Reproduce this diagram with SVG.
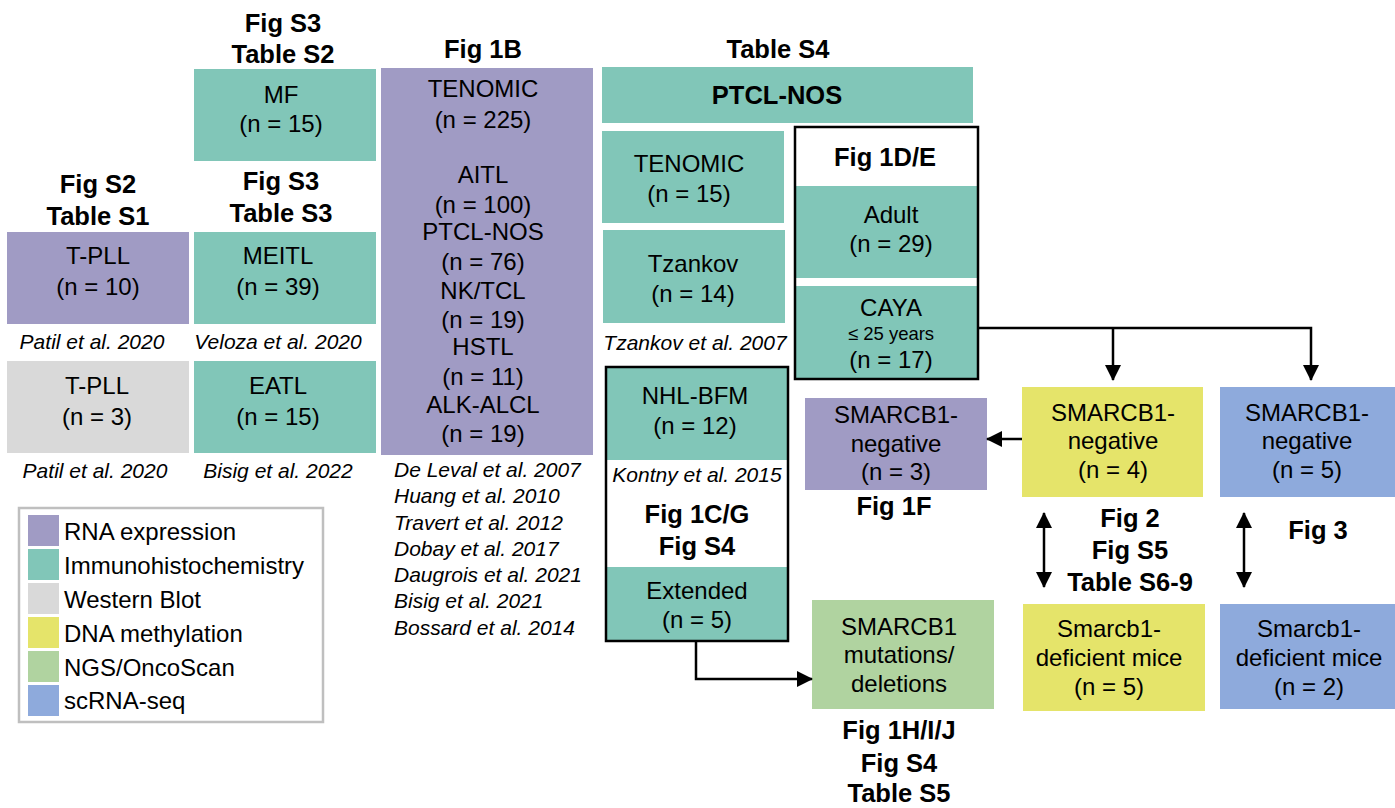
<svg xmlns="http://www.w3.org/2000/svg" width="1395" height="808" viewBox="0 0 1395 808">
<defs>
<style>
text{font-family:"Liberation Sans",Arial,sans-serif;fill:#000;text-anchor:middle}
.r{font-size:24px}
.b{font-size:25.5px;font-weight:bold}
.i{font-size:21px;font-style:italic}
.s{font-size:18.5px}
.l{text-anchor:start}
.pu{fill:#a09bc4}
.te{fill:#81c6b8}
.gr{fill:#d9d9d9}
.ye{fill:#e5e46a}
.gn{fill:#b0d3a0}
.bl{fill:#8eaadc}
.frame{fill:none;stroke:#000;stroke-width:2.5}
.conn{fill:none;stroke:#000;stroke-width:2.5}
</style>
<marker id="ah" markerUnits="userSpaceOnUse" markerWidth="16" markerHeight="16" refX="15" refY="8" orient="auto-start-reverse" viewBox="0 0 16 16">
<path d="M0,0 L16,8 L0,16 z" fill="#000"/>
</marker>
</defs>
<rect width="1395" height="808" fill="#fff"/>

<g id="col-left">
<text class="b" x="98" y="193">Fig S2</text>
<text class="b" x="98" y="225">Table S1</text>
</g>
<g id="tpll-rna">
<rect class="pu" x="7" y="232" width="182" height="92"/>
<text class="r" x="98" y="264">T-PLL</text>
<text class="r" x="98" y="295">(n = 10)</text>
</g>
<text class="i" x="92" y="349">Patil et al. 2020</text>
<g id="tpll-wb">
<rect class="gr" x="7" y="361" width="182" height="92"/>
<text class="r" x="97" y="394">T-PLL</text>
<text class="r" x="97" y="425">(n = 3)</text>
</g>
<text class="i" x="95" y="478">Patil et al. 2020</text>

<g id="mf-title">
<text class="b" x="283" y="32">Fig S3</text>
<text class="b" x="283" y="63">Table S2</text>
</g>
<g id="mf">
<rect class="te" x="194" y="69" width="182" height="92"/>
<text class="r" x="281" y="103">MF</text>
<text class="r" x="281" y="132">(n = 15)</text>
</g>
<g id="meitl-title">
<text class="b" x="281" y="190">Fig S3</text>
<text class="b" x="281" y="222">Table S3</text>
</g>
<g id="meitl">
<rect class="te" x="194" y="232" width="182" height="92"/>
<text class="r" x="278" y="264">MEITL</text>
<text class="r" x="278" y="295">(n = 39)</text>
</g>
<text class="i" x="278" y="349">Veloza et al. 2020</text>
<g id="eatl">
<rect class="te" x="194" y="361" width="182" height="92"/>
<text class="r" x="278" y="394">EATL</text>
<text class="r" x="278" y="425">(n = 15)</text>
</g>
<text class="i" x="278" y="478">Bisig et al. 2022</text>

<g id="legend">
<rect x="19" y="508" width="304" height="214" fill="#fff" stroke="#bfbfbf" stroke-width="2.5"/>
<rect class="pu" x="28" y="515" width="31" height="31"/>
<rect class="te" x="28" y="549" width="31" height="31"/>
<rect class="gr" x="28" y="583" width="31" height="31"/>
<rect class="ye" x="28" y="617" width="31" height="31"/>
<rect class="gn" x="28" y="651" width="31" height="31"/>
<rect class="bl" x="28" y="685" width="31" height="31"/>
<text class="r l" x="64" y="540">RNA expression</text>
<text class="r l" x="64" y="574">Immunohistochemistry</text>
<text class="r l" x="64" y="608">Western Blot</text>
<text class="r l" x="64" y="642">DNA methylation</text>
<text class="r l" x="64" y="676">NGS/OncoScan</text>
<text class="r l" x="64" y="709">scRNA-seq</text>
</g>

<g id="fig1b">
<text class="b" x="483" y="58">Fig 1B</text>
<rect class="pu" x="381" y="68" width="212" height="387"/>
<text class="r" x="483" y="97">TENOMIC</text>
<text class="r" x="483" y="128">(n = 225)</text>
<text class="r" x="483" y="183">AITL</text>
<text class="r" x="483" y="213">(n = 100)</text>
<text class="r" x="483" y="240">PTCL-NOS</text>
<text class="r" x="483" y="270">(n = 76)</text>
<text class="r" x="483" y="299">NK/TCL</text>
<text class="r" x="483" y="328">(n = 19)</text>
<text class="r" x="483" y="355">HSTL</text>
<text class="r" x="483" y="385">(n = 11)</text>
<text class="r" x="483" y="413">ALK-ALCL</text>
<text class="r" x="483" y="442">(n = 19)</text>
</g>
<g id="fig1b-refs">
<text class="i l" x="394" y="477">De Leval et al. 2007</text>
<text class="i l" x="394" y="503">Huang et al. 2010</text>
<text class="i l" x="394" y="530">Travert et al. 2012</text>
<text class="i l" x="394" y="556">Dobay et al. 2017</text>
<text class="i l" x="394" y="582">Daugrois et al. 2021</text>
<text class="i l" x="394" y="608">Bisig et al. 2021</text>
<text class="i l" x="394" y="635">Bossard et al. 2014</text>
</g>

<g id="ptcl-nos">
<text class="b" x="778" y="58">Table S4</text>
<rect class="te" x="602" y="67" width="371" height="56"/>
<text class="b" x="777" y="104">PTCL-NOS</text>
</g>
<g id="tenomic">
<rect class="te" x="602" y="131" width="182" height="92"/>
<text class="r" x="689" y="172">TENOMIC</text>
<text class="r" x="689" y="202">(n = 15)</text>
</g>
<g id="tzankov">
<rect class="te" x="603" y="230" width="182" height="93"/>
<text class="r" x="693" y="272">Tzankov</text>
<text class="r" x="693" y="302">(n = 14)</text>
</g>
<text class="i" x="695" y="350">Tzankov et al. 2007</text>

<g id="fig1de">
<rect class="te" x="796" y="186" width="182" height="92"/>
<rect class="te" x="796" y="286" width="182" height="93"/>
<rect class="frame" x="795" y="127" width="183" height="252"/>
<text class="b" x="885" y="166">Fig 1D/E</text>
<text class="r" x="891" y="223">Adult</text>
<text class="r" x="891" y="252">(n = 29)</text>
<text class="r" x="891" y="316">CAYA</text>
<text class="s" x="891" y="340">≤ 25 years</text>
<text class="r" x="891" y="368">(n = 17)</text>
</g>

<g id="nhl-bfm">
<rect class="te" x="606" y="367" width="182" height="93"/>
<rect class="te" x="606" y="567" width="182" height="74"/>
<rect class="frame" x="606" y="367" width="182" height="274"/>
<text class="r" x="695" y="404">NHL-BFM</text>
<text class="r" x="695" y="434">(n = 12)</text>
<text class="i" x="697" y="482">Kontny et al. 2015</text>
<text class="b" x="697" y="523">Fig 1C/G</text>
<text class="b" x="697" y="555">Fig S4</text>
<text class="r" x="697" y="599">Extended</text>
<text class="r" x="697" y="628">(n = 5)</text>
</g>

<g id="smarcb1-rna">
<rect class="pu" x="805" y="398" width="182" height="92"/>
<text class="r" x="896" y="423">SMARCB1-</text>
<text class="r" x="896" y="452">negative</text>
<text class="r" x="896" y="480">(n = 3)</text>
<text class="b" x="894" y="515">Fig 1F</text>
</g>
<g id="smarcb1-meth">
<rect class="ye" x="1022" y="387" width="181" height="110"/>
<text class="r" x="1113" y="421">SMARCB1-</text>
<text class="r" x="1113" y="449">negative</text>
<text class="r" x="1113" y="478">(n = 4)</text>
</g>
<g id="smarcb1-sc">
<rect class="bl" x="1220" y="387" width="175" height="110"/>
<text class="r" x="1307" y="421">SMARCB1-</text>
<text class="r" x="1307" y="449">negative</text>
<text class="r" x="1307" y="478">(n = 5)</text>
</g>
<g id="fig2-label">
<text class="b" x="1130" y="527">Fig 2</text>
<text class="b" x="1130" y="559">Fig S5</text>
<text class="b" x="1130" y="591">Table S6-9</text>
</g>
<text class="b" x="1318" y="539">Fig 3</text>
<g id="smarcb1-ngs">
<rect class="gn" x="812" y="600" width="182" height="109"/>
<text class="r" x="899" y="635">SMARCB1</text>
<text class="r" x="899" y="663">mutations/</text>
<text class="r" x="899" y="692">deletions</text>
<text class="b" x="899" y="739">Fig 1H/I/J</text>
<text class="b" x="899" y="772">Fig S4</text>
<text class="b" x="899" y="802">Table S5</text>
</g>
<g id="mice-meth">
<rect class="ye" x="1023" y="604" width="182" height="107"/>
<text class="r" x="1109" y="637">Smarcb1-</text>
<text class="r" x="1109" y="666">deficient mice</text>
<text class="r" x="1109" y="695">(n = 5)</text>
</g>
<g id="mice-sc">
<rect class="bl" x="1220" y="604" width="175" height="105"/>
<text class="r" x="1309" y="637">Smarcb1-</text>
<text class="r" x="1309" y="666">deficient mice</text>
<text class="r" x="1309" y="695">(n = 2)</text>
</g>

<g id="connectors">
<path class="conn" d="M696,641 V679 H812" marker-end="url(#ah)"/>
<path class="conn" d="M978,328 H1311 V380" marker-end="url(#ah)"/>
<path class="conn" d="M1113,328 V380" marker-end="url(#ah)"/>
<path class="conn" d="M1022,439 H987" marker-end="url(#ah)"/>
<path class="conn" d="M1044,513 V587" marker-start="url(#ah)" marker-end="url(#ah)"/>
<path class="conn" d="M1244,513 V587" marker-start="url(#ah)" marker-end="url(#ah)"/>
</g>
</svg>
